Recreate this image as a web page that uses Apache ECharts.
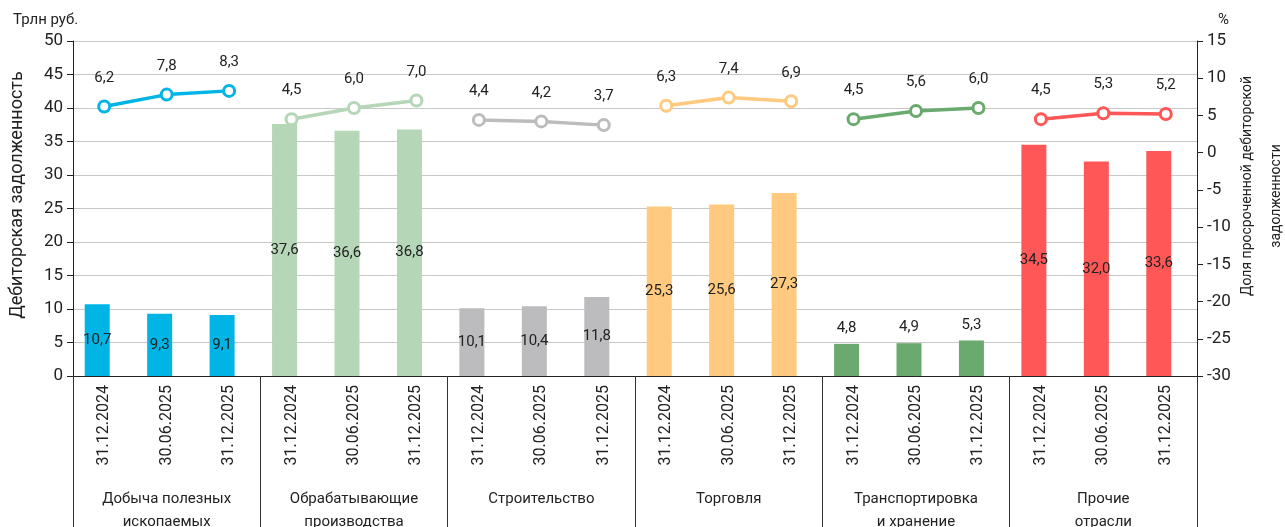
<!DOCTYPE html>
<html>
<head>
<meta charset="utf-8">
<script src="https://cdn.jsdelivr.net/npm/echarts@6/dist/echarts.min.js"></script>
<style>html,body{margin:0;padding:0;background:#fff}#c{width:1285px;height:527px}</style>
</head>
<body>
<div id="c"></div>
<script>
const groups = ['Добыча полезных\nископаемых', 'Обрабатывающие\nпроизводства', 'Строительство', 'Торговля', 'Транспортировка\nи хранение', 'Прочие\nотрасли'];
const dates = ['31.12.2024', '30.06.2025', '31.12.2025'];
const debt = [[10.7, 9.3, 9.1], [37.6, 36.6, 36.8], [10.1, 10.4, 11.8], [25.3, 25.6, 27.3], [4.8, 4.9, 5.3], [34.5, 32.0, 33.6]];
const overdue = [[6.2, 7.8, 8.3], [4.5, 6.0, 7.0], [4.4, 4.2, 3.7], [6.3, 7.4, 6.9], [4.5, 5.6, 6.0], [4.5, 5.3, 5.2]];
const leftTicks = [0, 50, 5];
const rightTicks = [-30, 15, 5];
const colors = ['#00B4E6', '#B5D6B7', '#BCBCBE', '#FFC97F', '#6BAA6E', '#FF5757'];

const FONT = 'Roboto';
const categories = [];
groups.forEach(() => dates.forEach(d => categories.push(d)));
const fmt = v => v.toFixed(1).replace('.', ',');

const barData = [];
debt.forEach((arr, g) => arr.forEach(v => barData.push({
  value: v,
  itemStyle: { color: colors[g] },
  label: { position: v > 8 ? 'inside' : 'top', distance: 8 }
})));

const series = [
  {
    type: 'bar', xAxisIndex: 0, yAxisIndex: 0, barWidth: 25, barGap: '-44%',
    data: barData,
    label: { show: true, formatter: p => fmt(p.value), fontFamily: FONT, fontSize: 15, color: '#222' },
    z: 2
  },
  { type: 'bar', xAxisIndex: 0, yAxisIndex: 0, barWidth: 25, data: categories.map(() => '-'), silent: true }
];
overdue.forEach((arr, g) => {
  const data = categories.map(() => '-');
  arr.forEach((v, i) => { data[g * 3 + i] = v; });
  series.push({
    type: 'line', xAxisIndex: 0, yAxisIndex: 1, data,
    symbol: 'circle', symbolSize: 11,
    itemStyle: { color: '#fff', borderColor: colors[g], borderWidth: 3 },
    lineStyle: { color: colors[g], width: 3.5 },
    label: { show: true, position: 'top', distance: 14, formatter: p => fmt(p.value), fontFamily: FONT, fontSize: 15, color: '#222' },
    z: 5
  });
});

const chart = echarts.init(document.getElementById('c'), null, { renderer: 'canvas' });
chart.setOption({
  animation: false,
  textStyle: { fontFamily: FONT },
  grid: { left: 73, right: 88, top: 41, bottom: 151, containLabel: false, outerBoundsMode: 'none' },
  title: [
    { text: 'Трлн руб.', left: 8, top: 8, textStyle: { fontFamily: FONT, fontSize: 15, fontWeight: 'normal', color: '#222' } },
    { text: '%', left: 1213, top: 8, textStyle: { fontFamily: FONT, fontSize: 15, fontWeight: 'normal', color: '#222' } }
  ],
  graphic: [
    { type: 'text', x: 8, y: 195, rotation: Math.PI / 2, style: { text: 'Дебиторская задолженность', font: '18px ' + FONT, fill: '#222', align: 'center', verticalAlign: 'top' } },
    { type: 'text', x: 1240, y: 186, rotation: Math.PI / 2, style: { text: 'Доля просроченной дебиторской', font: '14px ' + FONT, fill: '#222', align: 'center', verticalAlign: 'top' } },
    { type: 'text', x: 1269, y: 196, rotation: Math.PI / 2, style: { text: 'задолженности', font: '14px ' + FONT, fill: '#222', align: 'center', verticalAlign: 'top' } }
  ],
  xAxis: [
    {
      type: 'category', data: categories, position: 'bottom',
      axisLine: { show: true, onZero: false, lineStyle: { color: '#222', width: 1 } },
      axisTick: { show: false },
      axisLabel: { rotate: 90, margin: 9, fontSize: 16, color: '#222', fontFamily: FONT, interval: 0 }
    },
    {
      type: 'category', data: groups, position: 'bottom',
      axisLine: { show: false, onZero: false },
      axisTick: { show: true, inside: false, length: 155, lineStyle: { color: '#333', width: 1 } },
      axisLabel: { margin: 112, fontSize: 15, lineHeight: 23, color: '#222', fontFamily: FONT, interval: 0 }
    }
  ],
  yAxis: [
    {
      type: 'value', min: leftTicks[0], max: leftTicks[1], interval: leftTicks[2],
      axisLine: { show: true, onZero: false, lineStyle: { color: '#222' } },
      axisTick: { show: true, length: 6, lineStyle: { color: '#222' } },
      axisLabel: { fontSize: 17, color: '#222', fontFamily: FONT, margin: 10 },
      splitLine: { show: true, lineStyle: { color: '#C8C8C8', width: 1 } }
    },
    {
      type: 'value', min: rightTicks[0], max: rightTicks[1], interval: rightTicks[2], position: 'right',
      axisLine: { show: true, onZero: false, lineStyle: { color: '#222' } },
      axisTick: { show: true, length: 6, lineStyle: { color: '#222' } },
      axisLabel: { fontSize: 17, color: '#222', fontFamily: FONT, margin: 10 },
      splitLine: { show: false }
    }
  ],
  series
});
</script>
</body>
</html>
